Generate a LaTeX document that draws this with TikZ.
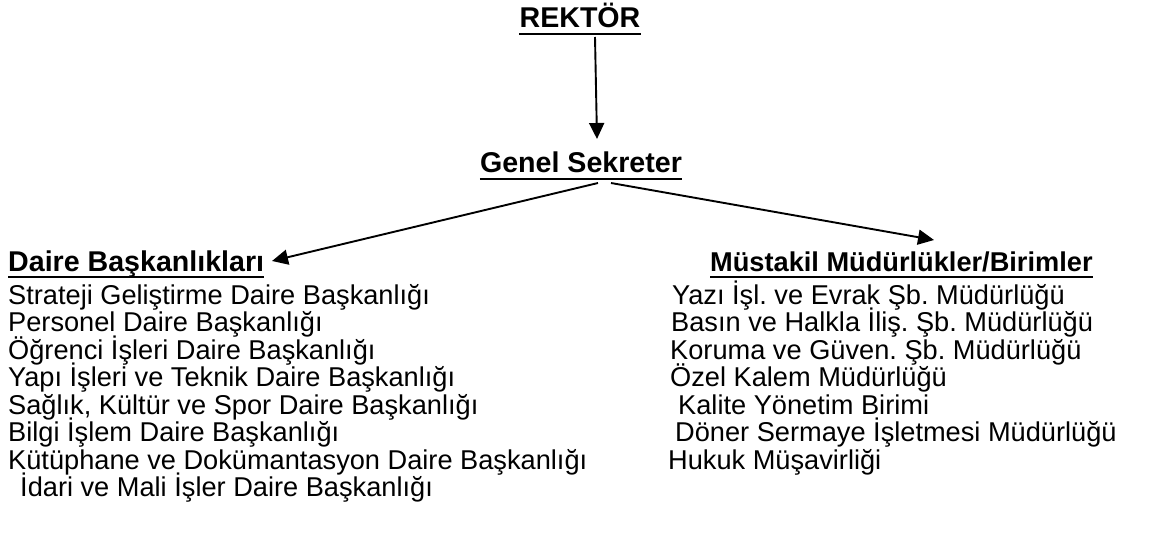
\documentclass[tikz,border=0pt]{standalone}
\usepackage{fontspec}
\setmainfont{Liberation Sans}
\frenchspacing
\usetikzlibrary{positioning,arrows.meta}

\tikzset{
  baslik/.style={font=\fontsize{28.6}{29}\selectfont\bfseries, inner sep=0pt},
  birim/.style={font=\fontsize{27.2}{27.5}\selectfont, inner sep=0pt, anchor=base west},
  ok/.style={line width=1.9pt, -{Triangle[width=15pt,length=16pt]}},
  altcizgi/.style={line width=2.8pt}
}

\begin{document}
\begin{tikzpicture}[x=1pt,y=-1pt]
\useasboundingbox (0,0) rectangle (1167,556);

% basliklar
\node[baslik, anchor=base] (rektor) at (580,28) {REKTÖR};
\node[baslik, anchor=base] (genel) at (581,173) {Genel Sekreter};
\node[baslik, anchor=base west] (daire) at (8,271) {Daire Başkanlıkları};
\node[baslik, anchor=base west, font=\fontsize{27.2}{28}\selectfont\bfseries] (mustakil) at (710,271) {Müstakil Müdürlükler/Birimler};

\foreach \n in {rektor,genel,daire,mustakil}
  \draw[altcizgi] ([yshift=-6pt]\n.base west) -- ([yshift=-6pt]\n.base east);

% daire baskanliklari
\foreach \x/\ad [count=\i] in {
    8/Strateji Geliştirme Daire Başkanlığı,
    8/Personel Daire Başkanlığı,
    8/Öğrenci İşleri Daire Başkanlığı,
    8/Yapı İşleri ve Teknik Daire Başkanlığı,
    8/{Sağlık, Kültür ve Spor Daire Başkanlığı},
    8/Bilgi İşlem Daire Başkanlığı,
    8/Kütüphane ve Dokümantasyon Daire Başkanlığı,
    20/İdari ve Mali İşler Daire Başkanlığı}
  \node[birim] (d\i) at (\x,{304+27.5*(\i-1)}) {\ad};

% mustakil birimler
\foreach \x/\ad [count=\i] in {
    672/Yazı İşl. ve Evrak Şb. Müdürlüğü,
    671/Basın ve Halkla İliş. Şb. Müdürlüğü,
    670/Koruma ve Güven. Şb. Müdürlüğü,
    670/Özel Kalem Müdürlüğü,
    678/Kalite Yönetim Birimi,
    675/Döner Sermaye İşletmesi Müdürlüğü,
    668/Hukuk Müşavirliği}
  \node[birim] (m\i) at (\x,{304+27.5*(\i-1)}) {\ad};

% oklar
\coordinate (rektor-alt) at (595,37);
\coordinate (genel-ust) at (597,139);
\coordinate (genel-sol) at (598,183);
\coordinate (genel-sag) at (611,183);
\coordinate (daire-uc) at (272,261);
\coordinate (mustakil-uc) at (934,240);

\draw[ok] (rektor-alt) -- (genel-ust);
\draw[ok] (genel-sol) -- (daire-uc);
\draw[ok] (genel-sag) -- (mustakil-uc);
\end{tikzpicture}
\end{document}
